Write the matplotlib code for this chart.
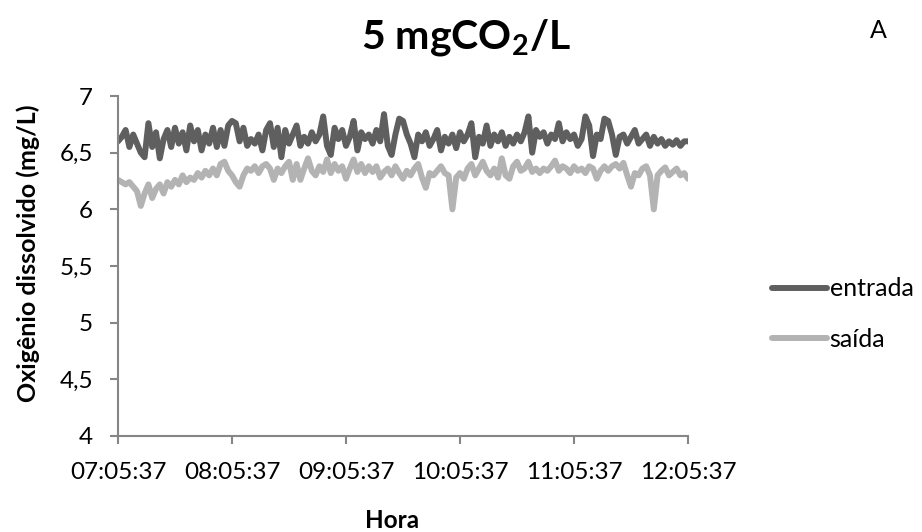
import numpy as np
import matplotlib
matplotlib.use("Agg")
import matplotlib.pyplot as plt

# ---- data ----
minutes = list(range(0, 302, 2))  # minutes after 07:05:37, sampled every 2 min
entrada = [
    6.60, 6.64, 6.70, 6.55, 6.66, 6.58, 6.50, 6.46, 6.76, 6.55,
    6.68, 6.45, 6.62, 6.70, 6.55, 6.72, 6.58, 6.68, 6.52, 6.74,
    6.60, 6.70, 6.52, 6.66, 6.58, 6.72, 6.55, 6.70, 6.56, 6.74,
    6.78, 6.76, 6.60, 6.72, 6.56, 6.62, 6.58, 6.66, 6.52, 6.70,
    6.76, 6.55, 6.72, 6.46, 6.70, 6.58, 6.66, 6.74, 6.56, 6.64,
    6.58, 6.68, 6.60, 6.66, 6.82, 6.56, 6.48, 6.72, 6.62, 6.70,
    6.56, 6.64, 6.78, 6.52, 6.68, 6.62, 6.66, 6.58, 6.70, 6.60,
    6.84, 6.56, 6.48, 6.66, 6.80, 6.78, 6.66, 6.58, 6.46, 6.66,
    6.60, 6.68, 6.56, 6.62, 6.70, 6.52, 6.64, 6.58, 6.66, 6.54,
    6.68, 6.60, 6.66, 6.76, 6.46, 6.64, 6.58, 6.74, 6.56, 6.66,
    6.60, 6.68, 6.56, 6.64, 6.58, 6.66, 6.60, 6.68, 6.82, 6.50,
    6.70, 6.64, 6.68, 6.58, 6.66, 6.62, 6.76, 6.60, 6.68, 6.62,
    6.66, 6.56, 6.62, 6.82, 6.74, 6.47, 6.66, 6.62, 6.80, 6.78,
    6.66, 6.48, 6.64, 6.66, 6.58, 6.64, 6.70, 6.58, 6.62, 6.66,
    6.56, 6.64, 6.58, 6.62, 6.56, 6.60, 6.57, 6.61, 6.56, 6.60,
    6.60,
]
saida = [
    6.26, 6.24, 6.22, 6.24, 6.20, 6.16, 6.03, 6.14, 6.22, 6.10,
    6.18, 6.22, 6.14, 6.24, 6.20, 6.26, 6.22, 6.30, 6.24, 6.28,
    6.26, 6.32, 6.28, 6.34, 6.30, 6.36, 6.30, 6.40, 6.42, 6.34,
    6.30, 6.24, 6.20, 6.30, 6.36, 6.34, 6.38, 6.32, 6.38, 6.40,
    6.36, 6.26, 6.36, 6.32, 6.38, 6.42, 6.26, 6.40, 6.26, 6.36,
    6.45, 6.34, 6.30, 6.38, 6.33, 6.44, 6.32, 6.40, 6.34, 6.38,
    6.27, 6.36, 6.44, 6.33, 6.40, 6.32, 6.38, 6.33, 6.38, 6.28,
    6.33, 6.36, 6.30, 6.38, 6.32, 6.27, 6.34, 6.30, 6.36, 6.40,
    6.28, 6.19, 6.32, 6.30, 6.34, 6.38, 6.32, 6.30, 6.00, 6.28,
    6.32, 6.27, 6.36, 6.40, 6.30, 6.36, 6.42, 6.34, 6.30, 6.36,
    6.28, 6.45, 6.30, 6.27, 6.38, 6.42, 6.34, 6.36, 6.42, 6.33,
    6.36, 6.32, 6.36, 6.34, 6.38, 6.43, 6.34, 6.38, 6.36, 6.32,
    6.38, 6.34, 6.36, 6.32, 6.38, 6.36, 6.27, 6.34, 6.38, 6.34,
    6.38, 6.40, 6.36, 6.41, 6.30, 6.20, 6.32, 6.30, 6.36, 6.38,
    6.30, 6.00, 6.30, 6.34, 6.37, 6.30, 6.33, 6.36, 6.30, 6.32,
    6.27,
]
series_names = ["entrada", "saída"]
x_tick_minutes = [0, 60, 120, 180, 240, 300]
x_tick_labels = ["07:05:37", "08:05:37", "09:05:37", "10:05:37", "11:05:37", "12:05:37"]
y_ticks = [4, 4.5, 5, 5.5, 6, 6.5, 7]
y_tick_labels = ["4", "4,5", "5", "5,5", "6", "6,5", "7"]

# ---- style ----
FONT = "Lato"
plt.rcParams["font.family"] = [FONT, "DejaVu Sans"]
plt.rcParams["mathtext.fontset"] = "custom"
plt.rcParams["mathtext.rm"] = FONT
plt.rcParams["mathtext.bf"] = FONT + ":bold"
W, H = 922, 532
fig = plt.figure(figsize=(W / 100, H / 100), dpi=100)
ax = fig.add_axes([118 / W, 1 - 436 / H, (688 - 118) / W, (436 - 96) / H])

ax.plot(minutes, entrada, color="#5f5f5f", lw=4.3, label=series_names[0],
        solid_joinstyle="round", solid_capstyle="round")
ax.plot(minutes, saida, color="#b3b3b3", lw=4.3, label=series_names[1],
        solid_joinstyle="round", solid_capstyle="round")

ax.set_xlim(0, 300)
ax.set_ylim(4, 7)
ax.set_xticks(x_tick_minutes)
ax.set_xticklabels(x_tick_labels)
ax.set_yticks(y_ticks)
ax.set_yticklabels(y_tick_labels)

axis_col = "#868686"
for s in ["top", "right"]:
    ax.spines[s].set_visible(False)
for s in ["left", "bottom"]:
    ax.spines[s].set_color(axis_col)
    ax.spines[s].set_linewidth(1.5)
ax.tick_params(axis="both", colors=axis_col, length=6, width=1.5, labelcolor="black",
               labelsize=17.5)
ax.tick_params(axis="x", pad=13)
ax.tick_params(axis="y", pad=12)

ax.set_ylabel("Oxigênio dissolvido (mg/L)", fontsize=18, fontweight="bold")
ax.yaxis.set_label_coords(40 / W, 1 - 253 / H, transform=fig.transFigure)
fig.text(392 / W, 1 - 521 / H, "Hora", fontsize=17.5, fontweight="bold",
         ha="center", va="center")

fig.text(466 / W, 1 - 37 / H, "5 mgCO$_\\mathbf{2}$/L", fontsize=29.5, fontweight="bold",
         ha="center", va="center")
fig.text(878 / W, 1 - 30 / H, "A", fontsize=18, ha="center", va="center")

leg = ax.legend(loc="center left", bbox_to_anchor=(772 / W, 1 - 314 / H),
                bbox_transform=fig.transFigure, frameon=False, fontsize=18,
                handlelength=2.2, handletextpad=0.1, labelspacing=1.1,
                borderaxespad=0, borderpad=0)

fig.savefig("out.png", dpi=100)
